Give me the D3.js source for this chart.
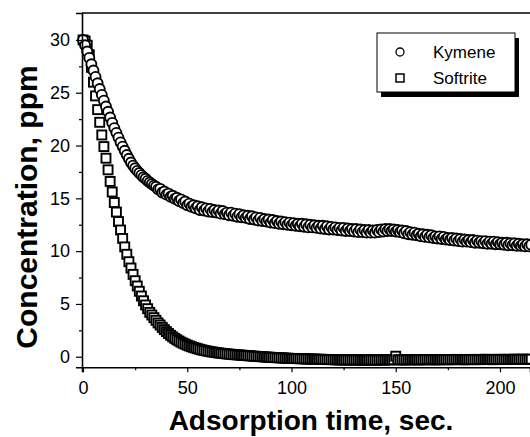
<!DOCTYPE html>
<html>
<head>
<meta charset="utf-8">
<script src="https://cdn.jsdelivr.net/npm/d3@7"></script>
<style>
  body { margin: 0; background: #fff; }
  svg { display: block; font-family: Arial, "Liberation Sans", sans-serif; }
</style>
</head>
<body>
<div id="chart"></div>
<script>
// one reading per second, starting at t = 0
var kymene = [
  30.0, 29.5, 28.9, 28.3, 27.7, 27.1, 26.5, 25.9, 25.35, 24.8,
  24.25, 23.7, 23.2, 22.65, 22.15, 21.65, 21.2, 20.75, 20.3, 19.9,
  19.5, 19.1, 18.75, 18.4, 18.1, 17.85, 17.6, 17.4, 17.2, 17.0,
  16.85, 16.65, 16.5, 16.35, 16.2, 16.1, 15.85, 15.9, 15.55, 15.65,
  15.35, 15.45, 15.15, 15.25, 14.95, 15.05, 14.75, 14.9, 14.55, 14.7,
  14.35, 14.5, 14.2, 14.35, 14.05, 14.25, 13.9, 14.15, 13.85, 14.05,
  13.75, 14.0, 13.7, 13.9, 13.65, 13.85, 13.55, 13.8, 13.5, 13.65,
  13.4, 13.65, 13.35, 13.55, 13.25, 13.5, 13.2, 13.4, 13.15, 13.35,
  13.05, 13.3, 13.0, 13.2, 12.9, 13.15, 12.85, 13.05, 12.8, 13.0,
  12.7, 12.95, 12.65, 12.85, 12.6, 12.8, 12.55, 12.75, 12.5, 12.7,
  12.45, 12.65, 12.4, 12.6, 12.35, 12.6, 12.3, 12.55, 12.25, 12.5,
  12.25, 12.45, 12.2, 12.4, 12.15, 12.4, 12.1, 12.35, 12.05, 12.3,
  12.05, 12.25, 12.0, 12.2, 11.95, 12.2, 11.9, 12.15, 11.9, 12.1,
  11.85, 12.1, 11.8, 12.05, 11.8, 12.0, 11.75, 12.0, 11.75, 11.95,
  11.75, 12.0, 11.8, 12.05, 11.85, 12.1, 11.9, 12.1, 11.9, 12.05,
  11.85, 12.0, 11.8, 11.95, 11.7, 11.9, 11.6, 11.8, 11.55, 11.75,
  11.5, 11.65, 11.4, 11.6, 11.35, 11.55, 11.3, 11.5, 11.25, 11.4,
  11.2, 11.4, 11.15, 11.35, 11.1, 11.25, 11.05, 11.25, 11.0, 11.2,
  10.95, 11.15, 10.9, 11.1, 10.9, 11.05, 10.85, 11.05, 10.8, 11.0,
  10.8, 10.95, 10.75, 10.95, 10.7, 10.9, 10.7, 10.9, 10.65, 10.85,
  10.65, 10.8, 10.6, 10.8, 10.55, 10.75, 10.55, 10.75, 10.5, 10.7,
  10.5, 10.65, 10.45, 10.65, 10.45, 10.6
];

var softrite = [
  30.0, 29.9, 29.5, 28.6, 27.4, 26.0, 24.7, 23.4, 22.2, 21.0,
  19.9, 18.8, 17.7, 16.6, 15.6, 14.6, 13.7, 12.8, 12.0, 11.2,
  10.4, 9.7, 9.0, 8.4, 7.8, 7.2, 6.7, 6.2, 5.75, 5.3,
  4.9, 4.55, 4.2, 3.95, 3.7, 3.45, 3.2, 3.0, 2.78, 2.57,
  2.38, 2.2, 2.03, 1.88, 1.74, 1.61, 1.49, 1.38, 1.28, 1.19,
  1.1, 1.02, 0.95, 0.88, 0.82, 0.76, 0.7, 0.65, 0.6, 0.56,
  0.52, 0.48, 0.45, 0.42, 0.39, 0.36, 0.34, 0.31, 0.29, 0.27,
  0.25, 0.23, 0.21, 0.19, 0.18, 0.16, 0.15, 0.13, 0.12, 0.1,
  0.09, 0.07, 0.05, 0.04, 0.02, 0.01, 0.0, -0.02, -0.03, -0.04,
  -0.05, -0.07, -0.08, -0.09, -0.1, -0.11, -0.12, -0.13, -0.14, -0.15,
  -0.16, -0.17, -0.16, -0.18, -0.19, -0.18, -0.2, -0.21, -0.2, -0.22,
  -0.23, -0.22, -0.24, -0.25, -0.23, -0.26, -0.25, -0.27, -0.26, -0.28,
  -0.27, -0.29, -0.28, -0.3, -0.29, -0.31, -0.3, -0.28, -0.31, -0.3,
  -0.32, -0.3, -0.29, -0.31, -0.33, -0.3, -0.32, -0.31, -0.29, -0.3,
  -0.31, -0.33, -0.3, -0.28, -0.3, -0.31, -0.29, -0.3, -0.28, -0.27,
  0.05, -0.29, -0.3, -0.28, -0.3, -0.29, -0.27, -0.3, -0.28, -0.29,
  -0.28, -0.3, -0.27, -0.29, -0.28, -0.26, -0.29, -0.27, -0.28, -0.3,
  -0.27, -0.29, -0.26, -0.28, -0.27, -0.29, -0.26, -0.28, -0.27, -0.25,
  -0.28, -0.26, -0.27, -0.29, -0.26, -0.28, -0.25, -0.27, -0.26, -0.28,
  -0.25, -0.27, -0.26, -0.24, -0.27, -0.25, -0.26, -0.28, -0.25, -0.27,
  -0.24, -0.26, -0.25, -0.27, -0.24, -0.26, -0.25, -0.23, -0.26, -0.24,
  -0.25, -0.23, -0.26, -0.24, -0.25, -0.23
];

var xTicks = [0, 50, 100, 150, 200];
var xMinor = [25, 75, 125, 175];
var yTicks = [0, 5, 10, 15, 20, 25, 30];
var yMinor = [2.5, 7.5, 12.5, 17.5, 22.5, 27.5];
var seriesNames = ["Kymene", "Softrite"];

var width = 530, height = 437;

var svg = d3.select("#chart")
  .append("svg")
  .attr("width", width)
  .attr("height", height);

var x = d3.scaleLinear().domain([-0.5, 214.4]).range([82, 530]);
var y = d3.scaleLinear().domain([-1.0, 32.55]).range([367.3, 13]);

// frame: top line
svg.append("line")
  .attr("x1", 82).attr("x2", width)
  .attr("y1", y(32.55)).attr("y2", y(32.55))
  .attr("stroke", "black")
  .attr("stroke-width", 1.3);

// softrite squares first, kymene circles over them
var sq = 9;
svg.append("g")
  .selectAll("rect")
  .data(softrite)
  .enter()
  .append("rect")
  .attr("x", function(d, i) { return x(i) - sq / 2; })
  .attr("y", function(d) { return y(d) - sq / 2; })
  .attr("width", sq)
  .attr("height", sq)
  .attr("fill", "white")
  .attr("stroke", "black")
  .attr("stroke-width", 1.9);

svg.append("g")
  .selectAll("circle")
  .data(kymene)
  .enter()
  .append("circle")
  .attr("cx", function(d, i) { return x(i); })
  .attr("cy", function(d) { return y(d); })
  .attr("r", 5)
  .attr("fill", "white")
  .attr("stroke", "black")
  .attr("stroke-width", 1.9);

// x axis
svg.append("g")
  .attr("transform", "translate(0," + y(-1.0) + ")")
  .call(d3.axisBottom(x).tickValues(xTicks).tickSize(5).tickPadding(9).tickFormat(d3.format("d")));

svg.append("g")
  .attr("transform", "translate(0," + y(-1.0) + ")")
  .call(d3.axisBottom(x).tickValues(xMinor).tickSize(3).tickFormat(""))
  .select(".domain").remove();

// y axis
svg.append("g")
  .attr("transform", "translate(82,0)")
  .call(d3.axisLeft(y).tickValues(yTicks).tickSize(6).tickPadding(6).tickFormat(d3.format("d")));

svg.append("g")
  .attr("transform", "translate(82,0)")
  .call(d3.axisLeft(y).tickValues(yMinor).tickSize(3).tickFormat(""))
  .select(".domain").remove();

svg.selectAll(".domain").attr("stroke-width", 1.6);
svg.selectAll(".tick line").attr("stroke-width", 1.2);
svg.selectAll(".tick text")
  .style("font-size", "18px")
  .style("font-family", "Arial, 'Liberation Sans', sans-serif")
  .attr("fill", "black");

// axis titles
svg.append("text")
  .attr("x", 311)
  .attr("y", 430)
  .attr("text-anchor", "middle")
  .style("font-size", "28px")
  .style("font-weight", "bold")
  .text("Adsorption time, sec.");

svg.append("text")
  .attr("transform", "translate(37,207)rotate(-90)")
  .attr("text-anchor", "middle")
  .style("font-size", "30px")
  .style("font-weight", "bold")
  .text("Concentration, ppm");

// legend with drop shadow
var legend = svg.append("g").attr("class", "legend");

legend.append("rect")
  .attr("x", 381).attr("y", 38)
  .attr("width", 138).attr("height", 59)
  .attr("fill", "black");

legend.append("rect")
  .attr("x", 377).attr("y", 33)
  .attr("width", 138).attr("height", 59)
  .attr("fill", "white")
  .attr("stroke", "black")
  .attr("stroke-width", 1);

legend.selectAll("g.item").data(seriesNames)
  .enter()
  .append("g")
  .attr("class", "item")
  .each(function(d, i) {
    var g = d3.select(this);
    var cy = 52 + i * 26;
    if (i == 0) {
      g.append("circle")
        .attr("cx", 400).attr("cy", cy).attr("r", 4)
        .attr("fill", "white").attr("stroke", "black").attr("stroke-width", 1.3);
    } else {
      g.append("rect")
        .attr("x", 396).attr("y", cy - 4).attr("width", 8).attr("height", 8)
        .attr("fill", "white").attr("stroke", "black").attr("stroke-width", 1.5);
    }
    g.append("text")
      .attr("x", 433)
      .attr("y", cy + 6)
      .style("font-size", "17px")
      .text(d);
  });
</script>
</body>
</html>
